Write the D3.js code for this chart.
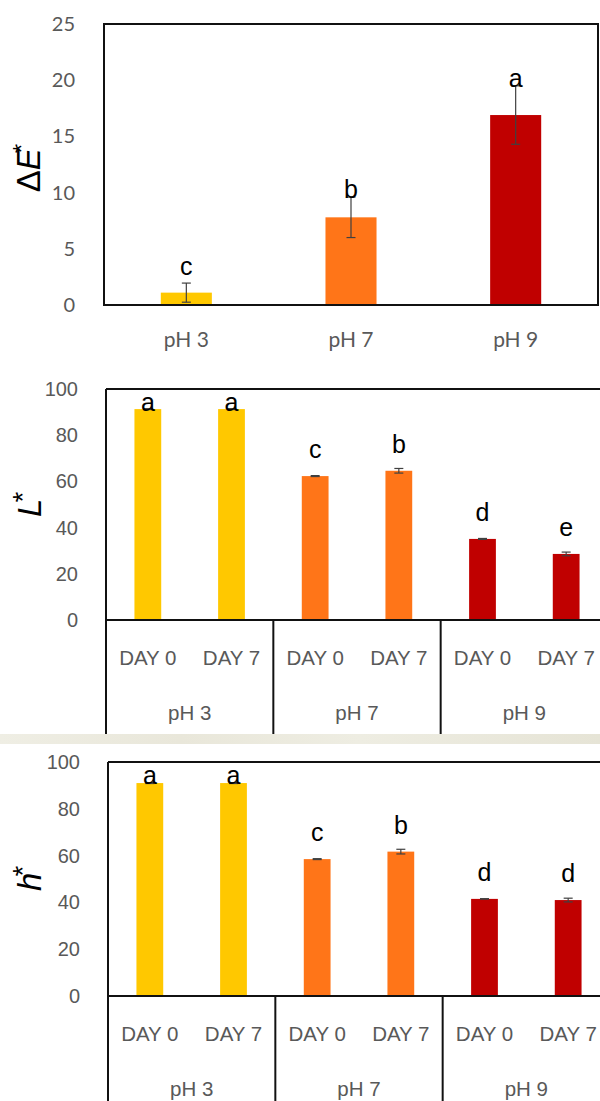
<!DOCTYPE html>
<html><head><meta charset="utf-8">
<script src="https://cdn.jsdelivr.net/npm/d3@7"></script>
<style>html,body{margin:0;padding:0;background:#fff;}svg{display:block;}</style>
</head><body>
<script>
// ---------- data ----------
const phGroups = ["pH 3", "pH 7", "pH 9"];
const groupColors = ["#FFC800", "#FF7518", "#C00000"];

const dE = [1.1, 7.8, 16.9];
const dEErr = [0.85, 1.8, 2.6];
const dELetters = ["c", "b", "a"];
const dETicks = [0, 5, 10, 15, 20, 25];

const days = ["DAY 0", "DAY 7"];
const Lvals = [91.3, 91.3, 62.3, 64.6, 35.1, 28.6];
const LErr = [0.2, 0.2, 0.2, 1.0, 0.2, 0.8];
const LLetters = ["a", "a", "c", "b", "d", "e"];

const hvals = [91.0, 91.0, 58.5, 61.7, 41.5, 41.0];
const hErr = [0.2, 0.2, 0.2, 1.0, 0.1, 0.8];
const hLetters = ["a", "a", "c", "b", "d", "d"];
const pctTicks = [0, 20, 40, 60, 80, 100];

// ---------- drawing ----------
const W = 600, H = 1101;
const svg = d3.select("body").append("svg").attr("width", W).attr("height", H);

// beige strip between panels 2 and 3
const grad = svg.append("defs").append("linearGradient").attr("id", "beige");
[["0%", "#efeee4"], ["30%", "#e9e7da"], ["60%", "#eeede2"], ["100%", "#e6e4d6"]]
  .forEach(([o, c]) => grad.append("stop").attr("offset", o).attr("stop-color", c));
svg.append("rect").attr("x", 0).attr("y", 734).attr("width", W).attr("height", 10).attr("fill", "url(#beige)");

const tickFont1 = "Lato, 'Open Sans', sans-serif";
const arial = "'Liberation Sans', Arial, sans-serif";

function errBars(g, x, y, vals, errs, cx) {
  vals.forEach((v, i) => {
    const e = errs[i];
    const c = cx(i);
    const y1 = y(v + e), y0 = y(v - e);
    g.append("line").attr("x1", c).attr("x2", c).attr("y1", y1).attr("y2", y0)
      .attr("stroke", "#404040").attr("stroke-width", 1.2);
    [y1, y0].forEach(yy => g.append("line").attr("x1", c - 4.5).attr("x2", c + 4.5)
      .attr("y1", yy).attr("y2", yy).attr("stroke", "#404040").attr("stroke-width", 1.2));
  });
}

function letters(g, y, vals, errs, labs, cx, plotTop, minGap) {
  labs.forEach((t, i) => {
    let b = Math.min(y(vals[i]) - 18, y(vals[i] + errs[i]) + 1);
    b = Math.max(b, plotTop + minGap);
    g.append("text").attr("x", cx(i)).attr("y", b).attr("text-anchor", "middle")
      .attr("font-family", arial).attr("font-size", 25).attr("fill", "#000").text(t);
  });
}

// ===== Panel 1: ΔE* =====
{
  const left = 104, right = 598, top = 24, bottom = 305;
  const x = d3.scaleBand().domain(phGroups).range([left, right]).padding(0);
  const y = d3.scaleLinear().domain([0, 25]).range([bottom, top]);
  const g = svg.append("g");
  const bw = x.bandwidth() * 0.31;
  g.selectAll("rect.bar").data(dE).join("rect").attr("class", "bar")
    .attr("x", (d, i) => x(phGroups[i]) + x.bandwidth() / 2 - bw / 2)
    .attr("width", bw).attr("y", d => y(d)).attr("height", d => y(0) - y(d))
    .attr("fill", (d, i) => groupColors[i]);
  const cx = i => x(phGroups[i]) + x.bandwidth() / 2;
  errBars(g, x, y, dE, dEErr, cx);
  letters(g, y, dE, dEErr, dELetters, cx, top, 22);
  // box
  g.append("rect").attr("x", left).attr("y", top).attr("width", right - left).attr("height", bottom - top)
    .attr("fill", "none").attr("stroke", "#111").attr("stroke-width", 2);
  // y axis
  const ya = g.append("g").attr("transform", `translate(${left},0)`)
    .call(d3.axisLeft(y).tickValues(dETicks).tickSize(0).tickPadding(29));
  ya.select(".domain").remove();
  ya.selectAll("text").attr("font-family", tickFont1).attr("font-size", 20).attr("fill", "#595959");
  // x axis labels
  const xa = g.append("g").attr("transform", `translate(0,${bottom})`)
    .call(d3.axisBottom(x).tickSize(0).tickPadding(27));
  xa.select(".domain").remove();
  xa.selectAll("text").attr("font-family", tickFont1).attr("font-size", 21).attr("fill", "#595959");
  // y title
  const t = g.append("text").attr("transform", `translate(40,168) rotate(-90)`)
    .attr("text-anchor", "middle").attr("font-family", arial).attr("font-size", 33).attr("fill", "#000");
  t.append("tspan").text("Δ");
  t.append("tspan").attr("font-style", "italic").text("E");
  t.append("tspan").attr("font-size", 24).attr("dy", -10).attr("dx", -5).text("*");
}

// ===== Panels 2 & 3 =====
function groupedPanel(cfg) {
  const { left, top, bottom, catBottom, vals, errs, labs, title, titleY } = cfg;
  const right = left + 502;
  const cats = [];
  phGroups.forEach(p => days.forEach(d => cats.push(p + "|" + d)));
  const x = d3.scaleBand().domain(cats).range([left, right]).padding(0);
  const y = d3.scaleLinear().domain([0, 100]).range([bottom, top]);
  const g = svg.append("g");
  const bw = x.bandwidth() * 0.32;
  const cx = i => x(cats[i]) + x.bandwidth() / 2;
  g.selectAll("rect.bar").data(vals).join("rect").attr("class", "bar")
    .attr("x", (d, i) => cx(i) - bw / 2).attr("width", bw)
    .attr("y", d => y(d)).attr("height", d => y(0) - y(d))
    .attr("fill", (d, i) => groupColors[Math.floor(i / 2)]);
  errBars(g, x, y, vals, errs, cx);
  letters(g, y, vals, errs, labs, cx, top, 22);

  // frame lines
  const line = (x1, y1, x2, y2) => g.append("line").attr("x1", x1).attr("y1", y1).attr("x2", x2).attr("y2", y2)
    .attr("stroke", "#111").attr("stroke-width", 2);
  line(left, top, W, top);
  line(left, bottom, W, bottom);
  line(left, top, left, catBottom);
  [1, 2].forEach(k => {
    const sx = x(cats[k * 2]);
    line(sx, bottom, sx, catBottom);
  });

  // y axis
  const ya = g.append("g").attr("transform", `translate(${left},0)`)
    .call(d3.axisLeft(y).tickValues(pctTicks).tickSize(0).tickPadding(28));
  ya.select(".domain").remove();
  ya.selectAll("text").attr("font-family", arial).attr("font-size", 20).attr("fill", "#595959");

  // day labels
  const xa = g.append("g").attr("transform", `translate(0,${bottom})`)
    .call(d3.axisBottom(x).tickSize(0).tickPadding(30).tickFormat(d => d.split("|")[1]));
  xa.select(".domain").remove();
  xa.selectAll("text").attr("font-family", arial).attr("font-size", 20.5).attr("fill", "#595959");

  // group labels
  const gx = d3.scaleBand().domain(phGroups).range([left, right]).padding(0);
  const ga = g.append("g").attr("transform", `translate(0,${bottom})`)
    .call(d3.axisBottom(gx).tickSize(0).tickPadding(85));
  ga.select(".domain").remove();
  ga.selectAll("text").attr("font-family", arial).attr("font-size", 20.5).attr("fill", "#595959");

  // y title
  const t = g.append("text").attr("transform", `translate(41,${titleY}) rotate(-90)`)
    .attr("text-anchor", "middle").attr("font-family", arial).attr("font-size", 33)
    .attr("font-style", "italic").attr("fill", "#000");
  t.append("tspan").text(title);
  t.append("tspan").attr("font-size", 27).attr("dy", -9).attr("dx", -5).text("*");
}

groupedPanel({ left: 106, top: 389, bottom: 620, catBottom: 734, vals: Lvals, errs: LErr, labs: LLetters, title: "L", titleY: 505 });
groupedPanel({ left: 108, top: 762, bottom: 996, catBottom: 1101, vals: hvals, errs: hErr, labs: hLetters, title: "h", titleY: 879 });
</script>
</body></html>
